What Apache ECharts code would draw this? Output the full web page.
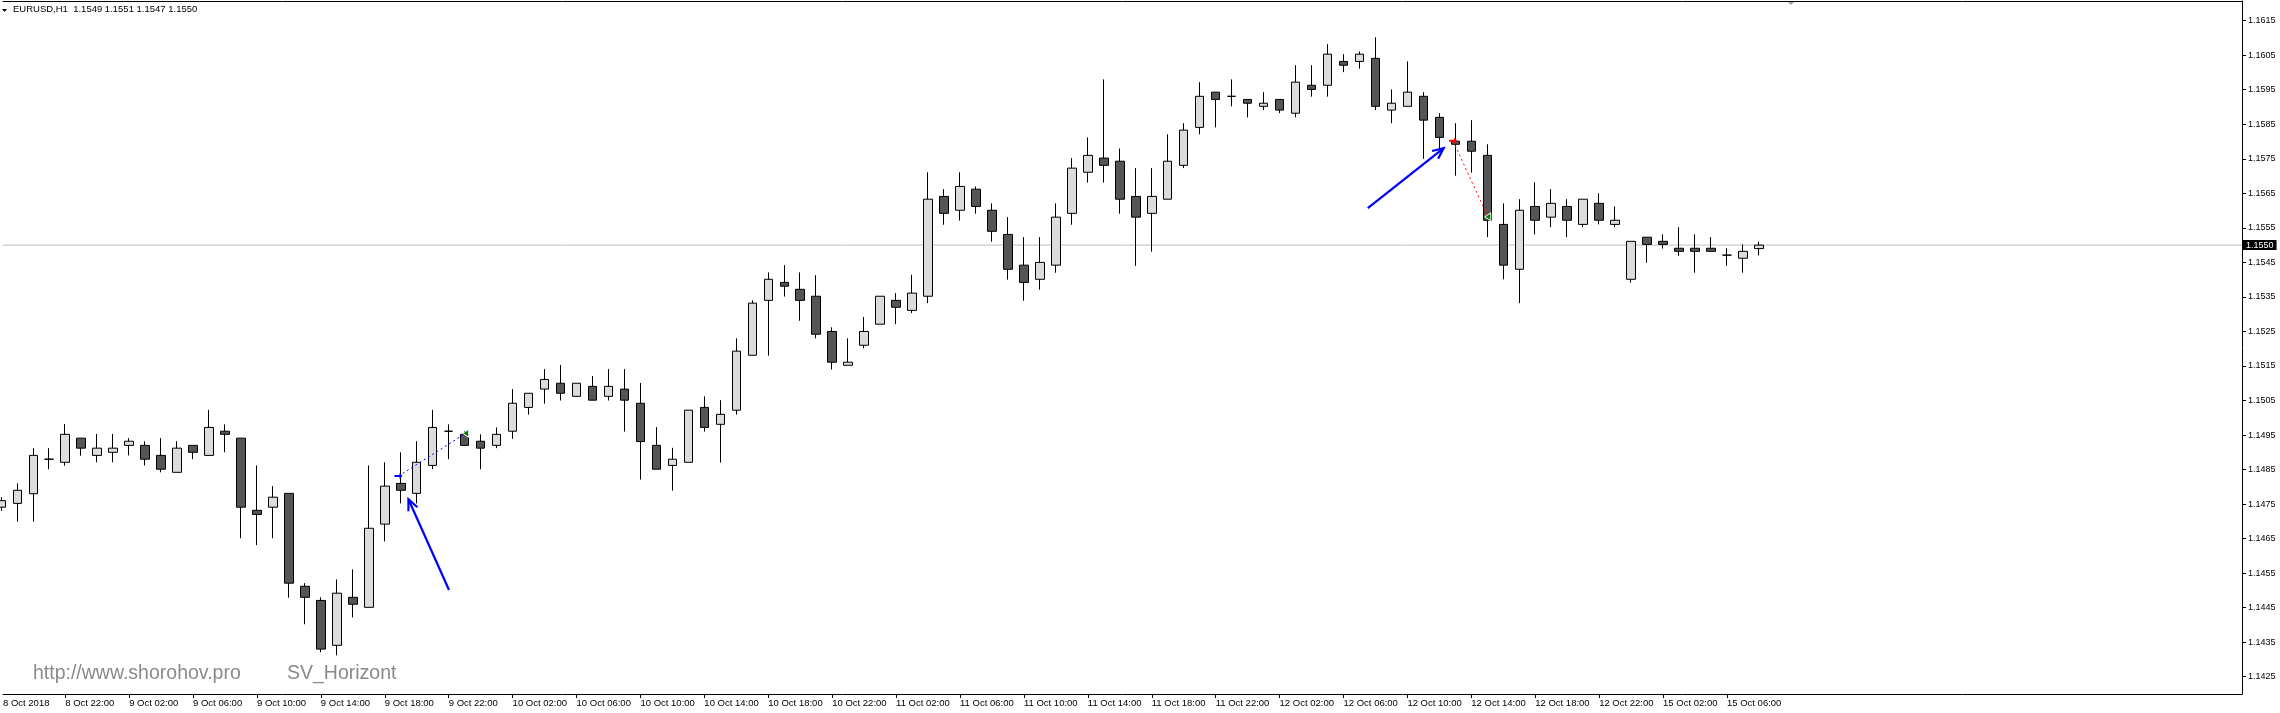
<!DOCTYPE html>
<html><head><meta charset="utf-8">
<script src="https://cdn.jsdelivr.net/npm/echarts@6/dist/echarts.min.js"></script>
<style>html,body{margin:0;padding:0;background:#fff;overflow:hidden}#c{width:2280px;height:713px}</style>
</head><body><div id="c"></div>
<script>
// ---------- data ----------
const symbolTitle = 'EURUSD,H1';
const lastQuote = ['1.1549', '1.1551', '1.1547', '1.1550'];
const currentPrice = 1.1550;

const opens = [1.14741,1.14752,1.14780,1.14880,1.14871,1.14941,1.14891,1.14900,1.14920,1.14920,
1.14891,1.14842,1.14920,1.14891,1.14961,1.14941,1.14732,1.14741,1.14781,1.14512,
1.14471,1.14341,1.14480,1.14451,1.14692,1.14810,1.14781,1.14862,1.14961,1.14952,
1.14932,1.14920,1.14961,1.15030,1.15083,1.15100,1.15062,1.15091,1.15062,1.15083,
1.15042,1.14920,1.14862,1.14871,1.15030,1.14981,1.15022,1.15181,1.15340,1.15392,
1.15372,1.15352,1.15250,1.15152,1.15210,1.15271,1.15340,1.15311,1.15352,1.15641,
1.15601,1.15662,1.15601,1.15531,1.15442,1.15401,1.15442,1.15592,1.15711,1.15752,
1.15743,1.15641,1.15592,1.15633,1.15731,1.15841,1.15943,1.15931,1.15922,1.15902,
1.15922,1.15882,1.15963,1.15963,1.16032,1.16032,1.16041,1.15891,1.15902,1.15931,
1.15870,1.15801,1.15801,1.15760,1.15560,1.15430,1.15612,1.15581,1.15612,1.15560,
1.15621,1.15560,1.15401,1.15523,1.15511,1.15491,1.15491,1.15491,1.15471,1.15462,
1.15490];
const highs = [1.14770,1.14810,1.14912,1.14912,1.14982,1.14941,1.14953,1.14953,1.14941,1.14932,
1.14941,1.14932,1.14920,1.15023,1.14981,1.14941,1.14862,1.14802,1.14781,1.14521,
1.14480,1.14532,1.14561,1.14862,1.14871,1.14900,1.14932,1.15023,1.14981,1.14962,
1.14952,1.14972,1.15083,1.15071,1.15141,1.15153,1.15100,1.15121,1.15141,1.15141,
1.15101,1.14973,1.14913,1.15022,1.15062,1.15051,1.15230,1.15340,1.15421,1.15442,
1.15421,1.15413,1.15262,1.15230,1.15292,1.15352,1.15361,1.15414,1.15711,1.15662,
1.15711,1.15670,1.15621,1.15581,1.15523,1.15523,1.15621,1.15752,1.15812,1.15980,
1.15780,1.15723,1.15723,1.15821,1.15853,1.15972,1.15943,1.15980,1.15922,1.15943,
1.15922,1.16021,1.16021,1.16082,1.16053,1.16061,1.16102,1.15951,1.16032,1.15943,
1.15882,1.15853,1.15862,1.15792,1.15621,1.15633,1.15682,1.15662,1.15633,1.15633,
1.15650,1.15612,1.15511,1.15523,1.15531,1.15552,1.15531,1.15523,1.15491,1.15502,
1.15510];
const lows = [1.14730,1.14699,1.14699,1.14851,1.14861,1.14890,1.14871,1.14871,1.14891,1.14862,
1.14842,1.14842,1.14880,1.14891,1.14900,1.14651,1.14631,1.14651,1.14479,1.14402,
1.14321,1.14312,1.14422,1.14451,1.14642,1.14752,1.14752,1.14851,1.14880,1.14920,
1.14851,1.14912,1.14939,1.15009,1.15041,1.15050,1.15062,1.15051,1.15050,1.14960,
1.14821,1.14851,1.14789,1.14871,1.14960,1.14870,1.15009,1.15181,1.15180,1.15351,
1.15281,1.15230,1.15140,1.15152,1.15201,1.15271,1.15271,1.15303,1.15332,1.15559,
1.15571,1.15591,1.15510,1.15400,1.15339,1.15371,1.15420,1.15559,1.15681,1.15681,
1.15591,1.15440,1.15481,1.15633,1.15723,1.15821,1.15841,1.15902,1.15870,1.15891,
1.15882,1.15870,1.15930,1.15930,1.16001,1.16011,1.15891,1.15853,1.15902,1.15750,
1.15778,1.15701,1.15710,1.15523,1.15401,1.15332,1.15531,1.15552,1.15523,1.15552,
1.15560,1.15552,1.15391,1.15449,1.15490,1.15469,1.15420,1.15482,1.15440,1.15420,
1.15470];
const closes = [1.14760,1.14790,1.14891,1.14880,1.14952,1.14912,1.14912,1.14912,1.14932,1.14880,
1.14851,1.14912,1.14900,1.14972,1.14952,1.14741,1.14720,1.14770,1.14521,1.14480,
1.14330,1.14492,1.14460,1.14680,1.14802,1.14790,1.14871,1.14972,1.14961,1.14920,
1.14912,1.14952,1.15042,1.15071,1.15111,1.15071,1.15100,1.15051,1.15091,1.15051,
1.14931,1.14851,1.14880,1.15022,1.14972,1.15010,1.15193,1.15332,1.15401,1.15381,
1.15340,1.15242,1.15161,1.15161,1.15250,1.15352,1.15320,1.15361,1.15633,1.15592,
1.15670,1.15612,1.15540,1.15430,1.15392,1.15450,1.15581,1.15723,1.15760,1.15731,
1.15633,1.15581,1.15641,1.15743,1.15833,1.15931,1.15922,1.15931,1.15911,1.15911,
1.15891,1.15972,1.15951,1.16053,1.16021,1.16053,1.15902,1.15911,1.15943,1.15862,
1.15812,1.15792,1.15772,1.15572,1.15442,1.15601,1.15572,1.15621,1.15572,1.15633,
1.15572,1.15572,1.15511,1.15502,1.15502,1.15482,1.15482,1.15482,1.15471,1.15482,
1.15500];

const timeTickIndex = [0,4,8,12,16,20,24,28,32,36,40,44,48,52,56,60,64,68,72,76,80,84,88,92,96,100,104,108];
const timeTickLabels = ['8 Oct 2018','8 Oct 22:00','9 Oct 02:00','9 Oct 06:00','9 Oct 10:00','9 Oct 14:00',
'9 Oct 18:00','9 Oct 22:00','10 Oct 02:00','10 Oct 06:00','10 Oct 10:00','10 Oct 14:00','10 Oct 18:00',
'10 Oct 22:00','11 Oct 02:00','11 Oct 06:00','11 Oct 10:00','11 Oct 14:00','11 Oct 18:00','11 Oct 22:00',
'12 Oct 02:00','12 Oct 06:00','12 Oct 10:00','12 Oct 14:00','12 Oct 18:00','12 Oct 22:00','15 Oct 02:00','15 Oct 06:00'];
const priceTicks = [1.1425,1.1435,1.1445,1.1455,1.1465,1.1475,1.1485,1.1495,1.1505,1.1515,
1.1525,1.1535,1.1545,1.1555,1.1565,1.1575,1.1585,1.1595,1.1605,1.1615];

// annotations in (bar index, price)
const arrowFrom = [[28.02, 1.14501], [85.52, 1.15607]];
const arrowTo   = [[25.48, 1.14764], [90.27, 1.15781]];
const tradeOpen  = [[24.86, 1.14831], [90.86, 1.15802]];
const tradeClose = [[29.06, 1.14955], [93.03, 1.15582]];
const tradeColors = ['#0000ff', '#ff0000'];
const watermarkTexts = ['http://www.shorohov.pro', 'SV_Horizont'];

// ---------- chart ----------
const X_MIN = 0.10625, X_MAX = 140.23125;
const Y_MIN = 1.142, Y_MAX = 1.16207;
const FONT = '"Liberation Sans", Arial, sans-serif';

const candleData = opens.map((o, i) => [i, o, closes[i], lows[i], highs[i]]);
const arrowData = arrowFrom.map((a, i) => [a[0], a[1], arrowTo[i][0], arrowTo[i][1]]);
const tradeData = tradeOpen.map((a, i) => [a[0], a[1], tradeClose[i][0], tradeClose[i][1], i]);
const priceLineData = [[X_MIN, currentPrice], [X_MAX, currentPrice]];

const chart = echarts.init(document.getElementById('c'), null, {renderer: 'canvas'});
chart.setOption({
  animation: false,
  backgroundColor: '#ffffff',
  grid: {left: 0, right: 38, top: 1, bottom: 19, containLabel: false},
  xAxis: [{
    type: 'value', min: X_MIN, max: X_MAX, position: 'bottom',
    axisLine: {show: true, onZero: false, lineStyle: {color: '#000', width: 1}},
    axisTick: {show: true, length: 4, inside: false, customValues: timeTickIndex.slice(1), lineStyle: {color: '#000'}},
    axisLabel: {show: true, customValues: [X_MIN].concat(timeTickIndex.slice(1)), align: 'left', margin: 4,
      color: '#000', fontSize: 9.5, fontFamily: FONT,
      formatter: v => timeTickLabels[timeTickIndex.indexOf(Math.round(v))]},
    splitLine: {show: false}
  }, {
    type: 'value', min: X_MIN, max: X_MAX, position: 'top',
    axisLine: {show: true, onZero: false, lineStyle: {color: '#000', width: 1}},
    axisTick: {show: false}, axisLabel: {show: false}, splitLine: {show: false}
  }],
  yAxis: [{
    type: 'value', min: Y_MIN, max: Y_MAX, position: 'right', scale: true,
    axisLine: {show: true, onZero: false, lineStyle: {color: '#000', width: 1}},
    axisTick: {show: true, length: 4, inside: false, customValues: priceTicks, lineStyle: {color: '#000'}},
    axisLabel: {show: true, customValues: priceTicks, margin: 6, color: '#000', fontSize: 9, fontFamily: FONT,
      formatter: v => v.toFixed(4)},
    splitLine: {show: false}
  }],
  graphic: [
    {type: 'polygon', shape: {points: [[2, 9], [7, 9], [4.5, 12]]}, style: {fill: '#000'}},
    {type: 'text', left: 13, top: 4, style: {text: symbolTitle + '  ' + lastQuote.join(' '), fill: '#000', fontSize: 9.5, fontFamily: FONT}},
    {type: 'polygon', shape: {points: [[1787, 1], [1795, 1], [1791, 5]]}, style: {fill: '#a0a0a0'}},
    {type: 'text', left: 33, top: 664, style: {text: watermarkTexts[0], fill: '#8a8a8a', fontSize: 19.5, fontFamily: FONT}},
    {type: 'text', left: 287, top: 664, style: {text: watermarkTexts[1], fill: '#8a8a8a', fontSize: 19.5, fontFamily: FONT}}
  ],
  series: [{
    type: 'line', xAxisIndex: 0, yAxisIndex: 0, z: 1,
    data: priceLineData, symbol: 'none', silent: true,
    lineStyle: {color: '#c0c0c0', width: 1, type: 'solid'},
    endLabel: {show: true, distance: 1, formatter: () => currentPrice.toFixed(4),
      backgroundColor: '#000', color: '#fff', padding: [1, 3, 0, 3], fontSize: 9, fontFamily: FONT}
  }, {
    type: 'candlestick',
    xAxisIndex: 0, yAxisIndex: 0,
    data: candleData,
    barWidth: 9,
    clip: true,
    itemStyle: {color: '#dcdcdc', color0: '#555555', borderColor: '#000', borderColor0: '#000', borderColorDoji: '#000', borderWidth: 1},
    z: 2
  }, {
    type: 'custom', xAxisIndex: 0, yAxisIndex: 0, z: 5,
    data: tradeData,
    encode: {x: [0, 2], y: [1, 3]},
    renderItem: (params, api) => {
      const p1 = api.coord([api.value(0), api.value(1)]);
      const p2 = api.coord([api.value(2), api.value(3)]);
      const col = tradeColors[api.value(4)];
      return {type: 'group', children: [
        {type: 'line', shape: {x1: p1[0], y1: p1[1], x2: p2[0], y2: p2[1]}, style: {stroke: col, lineWidth: 1, lineDash: [2, 3]}},
        {type: 'polygon', shape: {points: [[p1[0]-4, p1[1]-1], [p1[0]+1, p1[1]-1], [p1[0]+1, p1[1]-3], [p1[0]+4, p1[1]], [p1[0]+1, p1[1]+3], [p1[0]+1, p1[1]+1], [p1[0]-4, p1[1]+1]]}, style: {fill: col}},
        {type: 'polygon', shape: {points: [[p2[0]-3, p2[1]], [p2[0]+3, p2[1]-4], [p2[0]+3, p2[1]+4]]}, style: {fill: '#008000', stroke: '#ffffff', lineWidth: 1}}
      ]};
    }
  }, {
    type: 'custom', xAxisIndex: 0, yAxisIndex: 0, z: 6,
    data: arrowData,
    encode: {x: [0, 2], y: [1, 3]},
    renderItem: (params, api) => {
      const p1 = api.coord([api.value(0), api.value(1)]);
      const p2 = api.coord([api.value(2), api.value(3)]);
      const ang = Math.atan2(p2[1] - p1[1], p2[0] - p1[0]);
      const L = 12, a = 0.42;
      const h1 = [p2[0] - L * Math.cos(ang - a), p2[1] - L * Math.sin(ang - a)];
      const h2 = [p2[0] - L * Math.cos(ang + a), p2[1] - L * Math.sin(ang + a)];
      return {type: 'group', children: [
        {type: 'line', shape: {x1: p1[0], y1: p1[1], x2: p2[0], y2: p2[1]}, style: {stroke: '#0000ff', lineWidth: 2.2}},
        {type: 'polyline', shape: {points: [h1, p2, h2]}, style: {stroke: '#0000ff', lineWidth: 2.2, fill: null}}
      ]};
    }
  }]
});
</script></body></html>
